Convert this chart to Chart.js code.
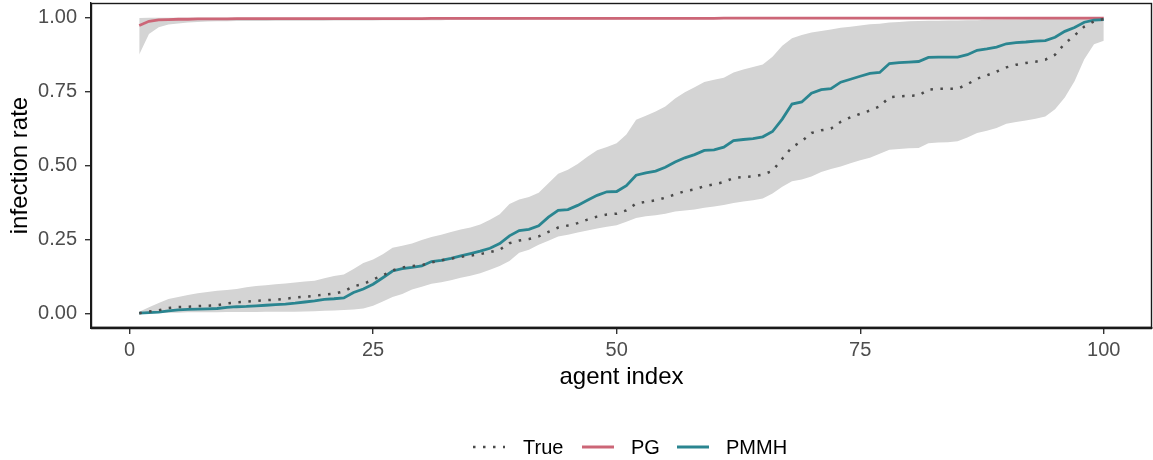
<!DOCTYPE html>
<html>
<head>
<meta charset="utf-8">
<script src="https://cdn.jsdelivr.net/npm/chart.js@4/dist/chart.umd.min.js"></script>
<style>
  html, body { margin: 0; padding: 0; background: #ffffff; }
  #wrap { width: 1153px; height: 460px; }
</style>
</head>
<body>
<div id="wrap"><canvas id="c" width="1153" height="460"></canvas></div>
<script>
const agentIndex = [1,2,3,4,5,6,7,8,9,10,11,12,13,14,15,16,17,18,19,20,21,22,23,24,25,26,27,28,29,30,31,32,33,34,35,36,37,38,39,40,41,42,43,44,45,46,47,48,49,50,51,52,53,54,55,56,57,58,59,60,61,62,63,64,65,66,67,68,69,70,71,72,73,74,75,76,77,78,79,80,81,82,83,84,85,86,87,88,89,90,91,92,93,94,95,96,97,98,99,100];

const trueRate = [0.000,0.006,0.010,0.018,0.021,0.022,0.024,0.025,0.027,0.033,
0.037,0.039,0.042,0.044,0.046,0.049,0.053,0.056,0.059,0.063,
0.066,0.074,0.091,0.099,0.114,0.128,0.145,0.155,0.160,0.163,
0.172,0.179,0.185,0.191,0.195,0.200,0.207,0.215,0.237,0.246,
0.251,0.260,0.275,0.290,0.297,0.305,0.317,0.327,0.334,0.337,
0.348,0.371,0.377,0.382,0.391,0.402,0.413,0.419,0.430,0.436,
0.444,0.458,0.461,0.463,0.469,0.482,0.523,0.562,0.582,0.610,
0.619,0.625,0.648,0.663,0.675,0.686,0.700,0.731,0.734,0.736,
0.737,0.757,0.760,0.760,0.760,0.775,0.794,0.805,0.818,0.832,
0.841,0.847,0.851,0.858,0.875,0.913,0.940,0.970,0.988,0.996];

const pmmhMean = [0.000,0.002,0.004,0.008,0.011,0.013,0.014,0.015,0.016,0.020,
0.022,0.023,0.025,0.027,0.029,0.031,0.034,0.038,0.042,0.047,
0.049,0.052,0.070,0.082,0.098,0.120,0.143,0.151,0.155,0.160,
0.175,0.179,0.186,0.194,0.202,0.210,0.220,0.236,0.262,0.280,
0.284,0.296,0.325,0.348,0.351,0.365,0.382,0.399,0.411,0.412,
0.432,0.467,0.475,0.481,0.494,0.512,0.526,0.537,0.551,0.553,
0.562,0.584,0.588,0.591,0.597,0.615,0.657,0.708,0.715,0.745,
0.757,0.760,0.782,0.792,0.802,0.812,0.815,0.845,0.848,0.850,
0.852,0.866,0.867,0.867,0.867,0.875,0.890,0.895,0.901,0.912,
0.916,0.918,0.921,0.923,0.934,0.954,0.967,0.985,0.992,0.994];

const pmmhLower = [0.000,0.000,0.001,0.002,0.002,0.003,0.003,0.003,0.003,0.004,
0.004,0.004,0.004,0.005,0.005,0.005,0.005,0.006,0.007,0.008,
0.009,0.011,0.013,0.016,0.025,0.040,0.055,0.065,0.080,0.090,
0.100,0.105,0.112,0.120,0.127,0.135,0.147,0.160,0.177,0.205,
0.215,0.232,0.245,0.260,0.266,0.273,0.280,0.287,0.293,0.298,
0.310,0.322,0.328,0.332,0.337,0.344,0.348,0.351,0.357,0.361,
0.366,0.373,0.378,0.382,0.388,0.405,0.428,0.447,0.453,0.463,
0.478,0.488,0.497,0.508,0.518,0.526,0.540,0.553,0.556,0.558,
0.559,0.575,0.578,0.579,0.582,0.595,0.610,0.618,0.627,0.641,
0.647,0.652,0.658,0.666,0.690,0.730,0.785,0.860,0.910,0.922];

const pmmhUpper = [0.005,0.020,0.035,0.048,0.055,0.062,0.068,0.072,0.076,0.079,
0.082,0.088,0.092,0.095,0.098,0.101,0.104,0.107,0.110,0.118,
0.126,0.131,0.150,0.170,0.182,0.200,0.222,0.228,0.236,0.248,
0.258,0.266,0.275,0.283,0.290,0.300,0.316,0.335,0.370,0.385,
0.393,0.408,0.440,0.472,0.486,0.505,0.530,0.552,0.563,0.575,
0.605,0.655,0.668,0.683,0.700,0.727,0.748,0.765,0.783,0.790,
0.797,0.815,0.825,0.833,0.842,0.868,0.905,0.931,0.942,0.950,
0.955,0.960,0.966,0.970,0.974,0.978,0.980,0.984,0.986,0.988,
0.989,0.990,0.990,0.991,0.991,0.992,0.992,0.993,0.993,0.994,
0.994,0.995,0.995,0.996,0.996,0.997,0.997,0.998,0.998,0.998];

const pgMean = [0.974,0.988,0.993,0.994,0.995,0.995,0.996,0.996,0.996,0.996,
0.997,0.997,0.997,0.997,0.997,0.997,0.997,0.997,0.997,0.997,
0.997,0.997,0.997,0.997,0.997,0.997,0.997,0.997,0.997,0.997,
0.998,0.998,0.998,0.998,0.998,0.998,0.998,0.998,0.998,0.998,
0.998,0.998,0.998,0.998,0.998,0.998,0.998,0.998,0.998,0.998,
0.998,0.998,0.998,0.998,0.998,0.998,0.998,0.998,0.998,0.998,
0.999,0.999,0.999,0.999,0.999,0.999,0.999,0.999,0.999,0.999,
0.999,0.999,0.999,0.999,0.999,0.999,0.999,0.999,0.999,0.999,
0.999,0.999,0.999,0.999,0.999,0.999,0.999,0.999,0.999,0.999,
0.999,0.999,0.999,0.999,0.999,0.999,0.999,0.999,0.999,0.999];

const pgLower = [0.876,0.945,0.968,0.977,0.981,0.984,0.986,0.987,0.988,0.988,
0.989,0.989,0.989,0.989,0.990,0.990,0.990,0.990,0.990,0.990,
0.991,0.991,0.991,0.991,0.991,0.992,0.992,0.992,0.992,0.992,
0.992,0.992,0.993,0.993,0.993,0.993,0.993,0.993,0.993,0.993,
0.994,0.994,0.994,0.994,0.994,0.994,0.994,0.994,0.994,0.994,
0.995,0.995,0.995,0.995,0.995,0.995,0.995,0.995,0.995,0.995,
0.996,0.996,0.996,0.996,0.996,0.996,0.996,0.996,0.996,0.996,
0.996,0.996,0.996,0.996,0.996,0.996,0.996,0.996,0.996,0.996,
0.997,0.997,0.997,0.997,0.997,0.997,0.997,0.997,0.997,0.997,
0.997,0.997,0.997,0.997,0.997,0.997,0.997,0.997,0.997,0.997];

const pgUpper = [0.999,1.000,1.000,1.000,1.000,1.000,1.000,1.000,1.000,1.000,
1.000,1.000,1.000,1.000,1.000,1.000,1.000,1.000,1.000,1.000,
1.000,1.000,1.000,1.000,1.000,1.000,1.000,1.000,1.000,1.000,
1.000,1.000,1.000,1.000,1.000,1.000,1.000,1.000,1.000,1.000,
1.000,1.000,1.000,1.000,1.000,1.000,1.000,1.000,1.000,1.000,
1.000,1.000,1.000,1.000,1.000,1.000,1.000,1.000,1.000,1.000,
1.000,1.000,1.000,1.000,1.000,1.000,1.000,1.000,1.000,1.000,
1.000,1.000,1.000,1.000,1.000,1.000,1.000,1.000,1.000,1.000,
1.000,1.000,1.000,1.000,1.000,1.000,1.000,1.000,1.000,1.000,
1.000,1.000,1.000,1.000,1.000,1.000,1.000,1.000,1.000,1.000];

const xTicks = [0, 25, 50, 75, 100];
const xTickLabels = ["0", "25", "50", "75", "100"];
const yTicks = [0, 0.25, 0.5, 0.75, 1];
const yTickLabels = ["0.00", "0.25", "0.50", "0.75", "1.00"];
const seriesNames = ["True", "PG", "PMMH"];
const xTitle = "agent index";
const yTitle = "infection rate";

const COL_TRUE = '#4a4a4a';
const COL_PG = '#CC6677';
const COL_PMMH = '#2A8590';
const COL_BAND = '#D4D4D4';
const FONT = "'Liberation Sans', Arial, Helvetica, sans-serif";

const pts = arr => agentIndex.map((x, i) => ({ x: x, y: arr[i] }));

const bandStyle = {
  borderWidth: 0,
  borderColor: 'rgba(0,0,0,0)',
  pointRadius: 0,
  pointHoverRadius: 0,
  tension: 0
};

const decor = {
  id: 'decor',
  afterDraw(chart) {
    const ctx = chart.ctx;
    const a = chart.chartArea;
    ctx.save();
    // panel border
    ctx.strokeStyle = '#1a1a1a';
    ctx.lineWidth = 1.4;
    ctx.strokeRect(a.left + 0.5, a.top + 0.5, a.right - a.left - 1, a.bottom - a.top - 1);
    ctx.lineWidth = 2.4;
    ctx.beginPath();
    ctx.moveTo(a.left, a.bottom);
    ctx.lineTo(a.right, a.bottom);
    ctx.stroke();
    // axis titles
    ctx.fillStyle = '#000000';
    ctx.font = '24px ' + FONT;
    ctx.textAlign = 'center';
    ctx.textBaseline = 'middle';
    ctx.fillText(xTitle, (a.left + a.right) / 2, 377);
    ctx.save();
    ctx.translate(20, (a.top + a.bottom) / 2);
    ctx.rotate(-Math.PI / 2);
    ctx.fillText(yTitle, 0, 0);
    ctx.restore();
    // legend
    ctx.font = '20px ' + FONT;
    ctx.textAlign = 'left';
    ctx.fillStyle = '#000000';
    const ly = 447;
    const items = [
      { name: seriesNames[0], color: COL_TRUE, dash: [2.5, 7.5], x0: 473, tx: 523 },
      { name: seriesNames[1], color: COL_PG, dash: [], x0: 582, tx: 631 },
      { name: seriesNames[2], color: COL_PMMH, dash: [], x0: 677, tx: 726 }
    ];
    items.forEach(it => {
      ctx.save();
      ctx.strokeStyle = it.color;
      ctx.lineWidth = it.dash.length ? 2.5 : 3;
      ctx.setLineDash(it.dash);
      ctx.beginPath();
      ctx.moveTo(it.x0, ly);
      ctx.lineTo(it.x0 + 32, ly);
      ctx.stroke();
      ctx.restore();
      ctx.fillText(it.name, it.tx, ly + 1);
    });
    ctx.restore();
  }
};

new Chart(document.getElementById('c'), {
  type: 'line',
  data: {
    datasets: [
      { label: seriesNames[0], data: pts(trueRate), borderColor: COL_TRUE, borderWidth: 2.5,
        borderDash: [2.5, 7.5], pointRadius: 0, tension: 0, fill: false },
      { label: seriesNames[2], data: pts(pmmhMean), borderColor: COL_PMMH, borderWidth: 2.8,
        pointRadius: 0, tension: 0, fill: false },
      { label: seriesNames[1], data: pts(pgMean), borderColor: COL_PG, borderWidth: 2.8,
        pointRadius: 0, tension: 0, fill: false },
      Object.assign({ label: 'PMMH lower', data: pts(pmmhLower), fill: false }, bandStyle),
      Object.assign({ label: 'PMMH upper', data: pts(pmmhUpper), fill: { target: 3 }, backgroundColor: COL_BAND }, bandStyle),
      Object.assign({ label: 'PG lower', data: pts(pgLower), fill: false }, bandStyle),
      Object.assign({ label: 'PG upper', data: pts(pgUpper), fill: { target: 5 }, backgroundColor: COL_BAND }, bandStyle)
    ]
  },
  options: {
    responsive: false,
    animation: false,
    events: [],
    layout: { padding: { left: 0, top: 3, right: 1, bottom: 0 } },
    plugins: {
      legend: { display: false },
      tooltip: { enabled: false },
      filler: { drawTime: 'beforeDatasetsDraw', propagate: false }
    },
    scales: {
      x: {
        type: 'linear',
        min: -3.95,
        max: 104.95,
        afterBuildTicks: s => { s.ticks = xTicks.map(v => ({ value: v })); },
        afterFit: s => { s.height = 132; s.paddingLeft = 0; s.paddingRight = 0; },
        ticks: {
          autoSkip: false,
          maxRotation: 0,
          padding: 4,
          color: '#4D4D4D',
          font: { family: FONT, size: 20 },
          callback: (v) => { const k = xTicks.indexOf(v); return k >= 0 ? xTickLabels[k] : ''; }
        },
        grid: { display: true, drawOnChartArea: false, drawTicks: true, tickLength: 6,
                color: '#333333', lineWidth: 1.4 },
        border: { display: true, color: '#1a1a1a', width: 2 }
      },
      y: {
        type: 'linear',
        min: -0.05,
        max: 1.05,
        afterBuildTicks: s => { s.ticks = yTicks.map(v => ({ value: v })); },
        afterFit: s => { s.width = 91; s.paddingTop = 0; s.paddingBottom = 0; },
        ticks: {
          autoSkip: false,
          padding: 8,
          color: '#4D4D4D',
          font: { family: FONT, size: 20 },
          callback: (v) => { const k = yTicks.indexOf(v); return k >= 0 ? yTickLabels[k] : ''; }
        },
        grid: { display: true, drawOnChartArea: false, drawTicks: true, tickLength: 6,
                color: '#333333', lineWidth: 1.4 },
        border: { display: true, color: '#1a1a1a', width: 1.4 }
      }
    }
  },
  plugins: [decor]
});
</script>
</body>
</html>
